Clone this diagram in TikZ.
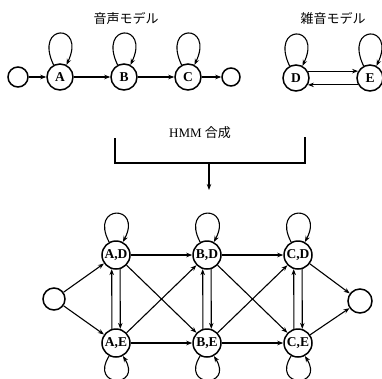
\documentclass[tikz,border=0pt]{standalone}
\usepackage{fontspec}
\setmainfont{Liberation Serif}
\newfontfamily\jp{Noto Sans CJK JP}
\usetikzlibrary{arrows.meta}

\begin{document}
\begin{tikzpicture}[x=1pt,y=-1pt,
  state/.style={circle,draw,line width=1.5pt,inner sep=0pt,minimum size=#1,
                font=\fontsize{13.5}{13.5}\selectfont\bfseries},
  state/.default=26pt,
  arr/.style={line width=1.1pt,-{Stealth[length=6pt,width=4.5pt]}},
  plain/.style={line width=1.4pt},
  title/.style={font=\fontsize{13}{13}\selectfont\jp}]
\useasboundingbox (0,0) rectangle (382,378);

% speech model
\node[title] (tS) at (126,19) {音声モデル};
\node[state=20pt] (s0) at (18,77) {};
\node[state] (A) at (60,77) {A};
\node[state] (B) at (124,77) {B};
\node[state] (C) at (188,77) {C};
\node[state=18pt] (s1) at (231,77) {};
\draw[arr] (s0) -- (A);
\draw[arr] (A) -- (B);
\draw[arr] (B) -- (C);
\draw[arr] (C) -- (s1);
\foreach \n in {A,B,C}
  \draw[arr] (\n.118) .. controls +(-20,-42) and +(20,-42) .. (\n.62);

% noise model
\node[title] (tN) at (333,18) {雑音モデル};
\node[state] (D) at (296,78) {D};
\node[state] (E) at (370,78) {E};
\draw[arr] (D.30) -- (E.150);
\draw[arr] (E.210) -- (D.330);
\foreach \n in {D,E}
  \draw[arr] (\n.118) .. controls +(-20,-42) and +(20,-42) .. (\n.62);

% composition bracket
\node[font=\fontsize{13}{13}\selectfont] (tH) at (200,133) {HMM {\jp 合成}};
\coordinate (bl) at (115,138);
\coordinate (br) at (305,137);
\coordinate (bm) at (209,163);
\coordinate (bo) at (209,190);
\draw[plain] (bl) |- (bm) -| (br);
\draw[arr] (bm) -- (bo);

% composed model
\node[state=22pt] (t0) at (54,299) {};
\node[state=28pt] (AD) at (116,255) {A,D};
\node[state=28pt] (AE) at (116,343) {A,E};
\node[state=28pt] (BD) at (207,255) {B,D};
\node[state=28pt] (BE) at (207,343) {B,E};
\node[state=28pt] (CD) at (298,255) {C,D};
\node[state=28pt] (CE) at (298,343) {C,E};
\node[state=24pt] (t1) at (360,301) {};

\draw[arr] (t0) -- (AD);
\draw[arr] (t0) -- (AE);
\draw[arr] (CD) -- (t1);
\draw[arr] (CE) -- (t1);

\foreach \a/\b in {A/B,B/C}{
  \draw[arr] (\a D) -- (\b D);
  \draw[arr] (\a E) -- (\b E);
  \draw[arr] (\a D) -- (\b E);
  \draw[arr] (\a E) -- (\b D);
}
\foreach \a in {A,B,C}{
  \draw[arr] (\a E.106.6) -- (\a D.253.4);
  \draw[arr] (\a D.286.6) -- (\a E.73.4);
  \draw[arr] (\a D.118) .. controls +(-20,-38) and +(20,-38) .. (\a D.62);
  \draw[arr] (\a E.242) .. controls +(-20,32) and +(20,32) .. (\a E.298);
}
\end{tikzpicture}
\end{document}
